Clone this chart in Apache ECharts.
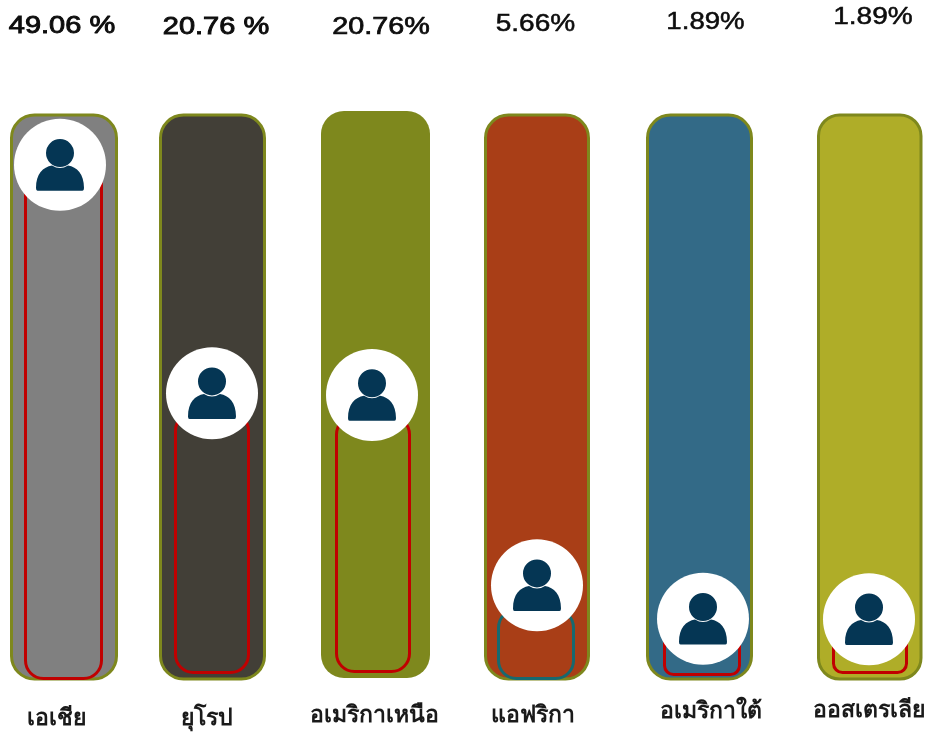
<!DOCTYPE html>
<html><head><meta charset="utf-8">
<style>html,body{margin:0;padding:0;background:#fff}#c{width:938px;height:735px}</style>
<script src="https://cdn.jsdelivr.net/npm/echarts@6/dist/echarts.min.js"></script>
</head><body><div id="c"></div>
<script>
// data
const categories = ['เอเชีย','ยุโรป','อเมริกาเหนือ','แอฟริกา','อเมริกาใต้','ออสเตรเลีย'];
const shareLabels = ['49.06 %','20.76 %','20.76%','5.66%','1.89%','1.89%'];
const fillLevels = [91, 47, 45.9, 12.7, 7.7, 7.3];
const trackLevels = [100, 100, 100, 100, 100, 100];

// styles and layout
const trackColors = ['#808080','#423f37','#7e881d','#a93e17','#336a87','#afad28'];
const outlineColors = ['#c00000','#c00000','#c00000','#17696f','#c00000','#c00000'];
const OLIVE = '#7e881d', NAVY = '#053654';
const trackBox = [[10,113.5,108,567],[159,113.5,107,567],[321,111,109,567],[484,113.5,106,567],[646,113.5,107,567],[817,113.5,105.5,567]];
const trackBorder = [3,3,0,3,3,3];
const trackRadius = [23,23,23,23,23,21];
const fillBox = [[24,115,79,565],[174,115,76,559],[335,111,76,562],[497,115,78,565],[663,115,78,561],[832,115,76,559]];
const fillRadius = [18,18,18,18,9,9];
const markerOffset = [[-3.5,-1],[0,-18],[-1,-20],[1,-23],[1,-14],[-1,-14]];
const labelPos = [[62,27,1.26],[216,28,1.26],[381,28,1.25],[535.5,25,1.22],[705.5,23,1.2],[873,18,1.22]];
const labelStroke = [0.9,0.9,0.7,0.5,0.5,0.5];
const catPos = [[56,718],[207,718],[374,715],[533,715],[711,711],[868.5,710]];
const catSize = 23;
const PERSON = 'path://M10,14a14,14 0 1,0 28,0a14,14 0 1,0 -28,0ZM1.5,51.6Q0,51.6 0,49C0,35 7,28 16,26.5A15,15 0 0 0 32,26.5C41,28 48,35 48,49Q48,51.6 46.5,51.6Z';

const grid = [], xAxis = [], yAxis = [], series = [], graphic = [];
categories.forEach((c, i) => {
  const boxes = [trackBox[i], fillBox[i]];
  boxes.forEach((b, k) => {
    const g = grid.length;
    grid.push({left:b[0], top:b[1], width:b[2], height:b[3], containLabel:false});
    xAxis.push({type:'category', gridIndex:g, data:[c], show:false});
    yAxis.push({type:'value', gridIndex:g, min:0, max:100, show:false});
    if (k === 0) {
      series.push({type:'bar', xAxisIndex:g, yAxisIndex:g, barWidth:'100%', clip:false, silent:true, z:1,
        data:[trackLevels[i]],
        itemStyle:{color:trackColors[i], borderColor:OLIVE, borderWidth:trackBorder[i], borderRadius:trackRadius[i]}});
    } else {
      series.push({type:'bar', xAxisIndex:g, yAxisIndex:g, barWidth:'100%', clip:false, silent:true, z:2,
        data:[fillLevels[i]],
        itemStyle:{color:'rgba(0,0,0,0)', borderColor:outlineColors[i], borderWidth:3, borderRadius:fillRadius[i]}});
      series.push({type:'scatter', xAxisIndex:g, yAxisIndex:g, clip:false, silent:true, z:3,
        data:[[c, fillLevels[i]]], symbol:'circle', symbolSize:92, symbolOffset:markerOffset[i],
        itemStyle:{color:'#fff', opacity:1}});
      series.push({type:'scatter', xAxisIndex:g, yAxisIndex:g, clip:false, silent:true, z:4,
        data:[[c, fillLevels[i]]], symbol:PERSON, symbolKeepAspect:false, symbolSize:[48,51.6], symbolOffset:markerOffset[i],
        itemStyle:{color:NAVY, opacity:1}});
    }
  });
  const lp = labelPos[i];
  graphic.push({type:'text', x:lp[0], y:lp[1], scaleX:lp[2], scaleY:1, z:10, silent:true,
    style:{text:shareLabels[i], x:0, y:0, align:'center', verticalAlign:'middle',
      font:'normal 23px "Liberation Sans", Arial, sans-serif', fill:'#0d0d0d', stroke:'#0d0d0d', lineWidth:labelStroke[i]}});
  const cp = catPos[i];
  graphic.push({type:'text', x:cp[0], y:cp[1], z:10, silent:true,
    style:{text:c, x:0, y:0, align:'center', verticalAlign:'middle',
      font:'bold '+catSize+'px "Noto Sans", "DejaVu Sans", sans-serif', fill:'#1a1a1a'}});
});

const chart = echarts.init(document.getElementById('c'), null, {renderer:'canvas', width:938, height:735});
chart.setOption({animation:false, backgroundColor:'#fff', tooltip:{show:false}, grid, xAxis, yAxis, series, graphic});
</script></body></html>
